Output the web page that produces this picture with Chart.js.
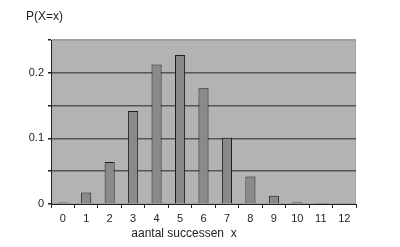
<!DOCTYPE html>
<html>
<head>
<meta charset="utf-8">
<script src="https://cdn.jsdelivr.net/npm/chart.js@4"></script>
<style>
  html, body { margin: 0; padding: 0; background: #fff; }
  #wrap { width: 400px; height: 247px; }
</style>
</head>
<body>
<div id="wrap"><canvas id="chart" width="400" height="247"></canvas></div>
<script>
// aantal successen x, with P(X=x)
const xLabels = ['0', '1', '2', '3', '4', '5', '6', '7', '8', '9', '10', '11', '12'];
const probs = [0.0022, 0.0174, 0.0639, 0.1419, 0.2128, 0.2270, 0.1766, 0.1009, 0.0420, 0.0125, 0.0025, 0.0003, 0.0000];
const yLabelled = [0, 0.1, 0.2];

const plotBg = {
    id: 'plotBg',
    beforeDraw(chart) {
        const { ctx, chartArea: a } = chart;
        ctx.save();
        ctx.fillStyle = '#b3b3b3';
        ctx.fillRect(a.left, a.top, a.right - a.left, a.bottom - a.top);
        ctx.strokeStyle = '#a0a0a0';
        ctx.lineWidth = 1;
        ctx.strokeRect(a.left + 0.5, a.top + 0.5, a.right - a.left - 1, a.bottom - a.top - 1);
        ctx.restore();
    },
    afterDraw(chart) {
        const { ctx } = chart;
        ctx.save();
        ctx.fillStyle = '#222';
        ctx.font = '12px "Liberation Sans", Arial, sans-serif';
        ctx.textBaseline = 'middle';
        ctx.textAlign = 'left';
        ctx.fillText('P(X=x)', 26, 17);
        ctx.textAlign = 'center';
        ctx.fillText('aantal successen  x', 184, 234);
        ctx.restore();
    }
};

new Chart(document.getElementById('chart').getContext('2d'), {
    type: 'bar',
    data: {
        labels: xLabels,
        datasets: [{
            data: probs,
            backgroundColor: '#8a8a8a',
            borderColor: '#1e1e1e',
            borderWidth: 1,
            barPercentage: 0.43,
            categoryPercentage: 1
        }]
    },
    options: {
        responsive: false,
        animation: false,
        layout: { padding: { left: 0, right: 44, top: 40, bottom: 0 } },
        plugins: {
            legend: { display: false },
            tooltip: { enabled: false }
        },
        scales: {
            x: {
                offset: true,
                border: { color: '#222', width: 1 },
                grid: {
                    offset: true,
                    drawOnChartArea: false,
                    tickLength: 4,
                    tickColor: '#222'
                },
                ticks: {
                    color: '#222',
                    padding: 4,
                    maxRotation: 0,
                    font: { family: '"Liberation Sans", Arial, sans-serif', size: 11 }
                },
                afterFit(scale) { scale.height = 43; }
            },
            y: {
                min: 0,
                max: 0.25,
                border: { color: '#222', width: 1 },
                grid: {
                    color: ctx => {
                        const v = ctx.tick.value;
                        if (v <= 0.001) return 'rgba(0,0,0,0)';
                        if (v >= 0.249) return '#a0a0a0';
                        return '#555';
                    },
                    tickColor: '#222',
                    tickLength: 3,
                    lineWidth: 1.5
                },
                ticks: {
                    stepSize: 0.05,
                    color: '#222',
                    padding: 4,
                    font: { family: '"Liberation Sans", Arial, sans-serif', size: 11 },
                    callback: v => yLabelled.some(l => Math.abs(l - v) < 1e-6) ? String(Math.round(v * 10) / 10) : ''
                },
                afterFit(scale) { scale.width = 51; }
            }
        }
    },
    plugins: [plotBg]
});
</script>
</body>
</html>
